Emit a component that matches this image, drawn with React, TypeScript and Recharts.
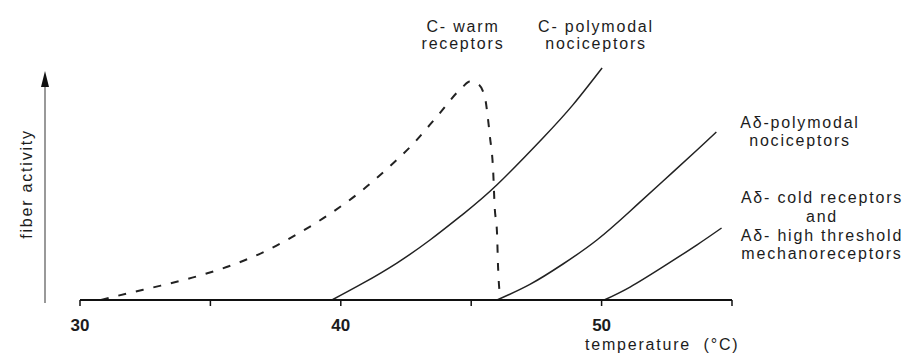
import { LineChart, Line, XAxis, YAxis } from "recharts";

// temperature (°C) and relative fiber activity
const cWarmTemp = [30.8, 31.8, 33.1, 34.5, 35.9, 37.2, 38.4, 39.6, 40.74, 41.81, 42.77, 43.73, 44.65, 44.95, 45.26, 45.53, 45.64, 45.72, 45.84, 45.9, 45.99, 46.03, 46.1];
const cWarmAct = [0, 2.7, 6, 9.9, 14.8, 20.8, 27.9, 36, 45, 55, 65, 77, 88.5, 91, 90, 84.2, 75.8, 67.9, 54.2, 38.8, 27.9, 13.8, 2];

const cPolyTemp = [39.66, 40.85, 42.15, 43.42, 44.69, 45.99, 47.75, 48.9, 50.02];
const cPolyAct = [0, 7, 15.4, 25, 35.8, 48, 67.5, 81.3, 96.7];

const adPolyTemp = [45.99, 47.25, 48.52, 49.82, 51.09, 52.35, 53.66, 54.4];
const adPolyAct = [0, 6.5, 15, 25, 37, 49.5, 62.5, 70];

const adColdTemp = [50.1, 51.09, 52.35, 53.66, 54.6];
const adColdAct = [0, 5.4, 13.8, 23, 30];

const xTicks = [30, 35, 40, 45, 50, 55];
const xLabels = [30, 40, 50];

const toRows = (temps: number[], acts: number[]) =>
  temps.map((t, i) => ({ t, a: acts[i] }));

const font = '"Liberation Sans", Arial, sans-serif';
const ink = "#1c1c1c";

const labelStyle = {
  fontFamily: font,
  fontSize: 16,
  letterSpacing: 1.8,
  fill: ink,
};

const App = () => {
  return (
    <div style={{ position: "absolute", left: 0, top: 0, width: 913, height: 356, background: "#fff" }}>
      <LineChart
        width={913}
        height={356}
        margin={{ top: 60, right: 181, left: 80, bottom: 0 }}
      >
        <XAxis
          type="number"
          dataKey="t"
          domain={[30, 55]}
          ticks={xTicks}
          allowDataOverflow
          height={56}
          tickSize={6}
          tickMargin={13}
          axisLine={{ stroke: "#111", strokeWidth: 2 }}
          tickLine={{ stroke: "#111", strokeWidth: 1.5 }}
          tickFormatter={(v: number) => (xLabels.includes(v) ? String(v) : "")}
          tick={{ fill: ink, fontSize: 17, fontWeight: "bold", fontFamily: font }}
        />
        <YAxis type="number" domain={[0, 100]} hide />
        <Line
          data={toRows(cWarmTemp, cWarmAct)}
          dataKey="a"
          type="monotone"
          stroke="#222"
          strokeWidth={2}
          strokeDasharray="8 10"
          dot={false}
          isAnimationActive={false}
        />
        <Line
          data={toRows(cPolyTemp, cPolyAct)}
          dataKey="a"
          type="natural"
          stroke="#222"
          strokeWidth={1.5}
          dot={false}
          isAnimationActive={false}
        />
        <Line
          data={toRows(adPolyTemp, adPolyAct)}
          dataKey="a"
          type="natural"
          stroke="#222"
          strokeWidth={1.5}
          dot={false}
          isAnimationActive={false}
        />
        <Line
          data={toRows(adColdTemp, adColdAct)}
          dataKey="a"
          type="natural"
          stroke="#222"
          strokeWidth={1.5}
          dot={false}
          isAnimationActive={false}
        />
      </LineChart>
      <svg
        width={913}
        height={356}
        style={{ position: "absolute", left: 0, top: 0, pointerEvents: "none" }}
      >
        {/* y axis with arrow */}
        <line x1={45} y1={303} x2={45} y2={84} stroke="#555" strokeWidth={1.2} />
        <polygon points="45,71 41,87 49,87" fill="#111" />
        <text transform="translate(32,184) rotate(-90)" textAnchor="middle" style={labelStyle}>
          fiber activity
        </text>

        <text textAnchor="middle" style={labelStyle}>
          <tspan x={463} y={32}>C- warm</tspan>
          <tspan x={463} y={49}>receptors</tspan>
        </text>
        <text textAnchor="middle" style={labelStyle}>
          <tspan x={596} y={32}>C- polymodal</tspan>
          <tspan x={596} y={49}>nociceptors</tspan>
        </text>
        <text textAnchor="middle" style={labelStyle}>
          <tspan x={800} y={128}>Aδ-polymodal</tspan>
          <tspan x={800} y={146}>nociceptors</tspan>
        </text>
        <text textAnchor="middle" style={labelStyle}>
          <tspan x={822} y={203}>Aδ- cold receptors</tspan>
          <tspan x={822} y={222}>and</tspan>
          <tspan x={822} y={241}>Aδ- high threshold</tspan>
          <tspan x={822} y={259}>mechanoreceptors</tspan>
        </text>
        <text x={585} y={350} style={{ ...labelStyle, whiteSpace: "pre" }}>
          {"temperature  (°C)"}
        </text>
      </svg>
    </div>
  );
};

export default App;
